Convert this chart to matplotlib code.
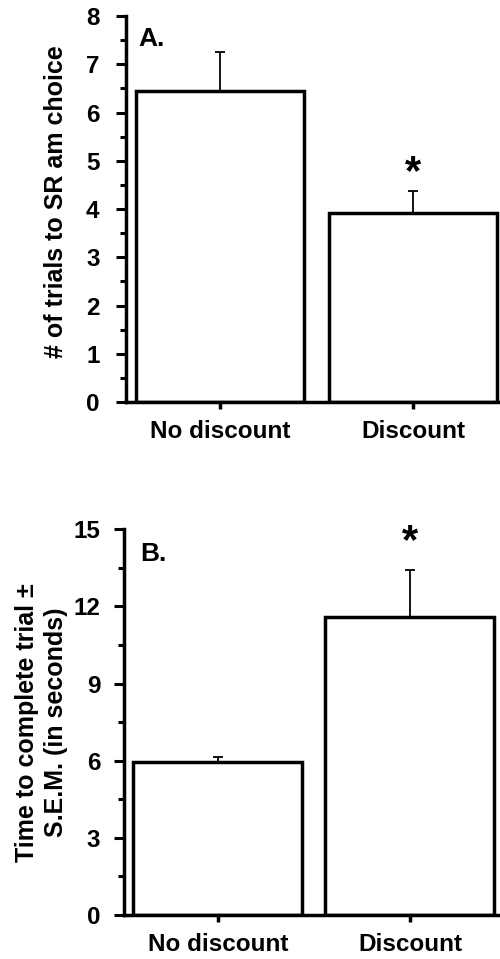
import matplotlib
matplotlib.use('Agg')
import matplotlib.pyplot as plt
from matplotlib.ticker import MultipleLocator

plt.rcParams['font.family'] = ['Liberation Sans', 'DejaVu Sans']
plt.rcParams['font.weight'] = 'bold'

groups = ['No discount', 'Discount']

trials_mean = [6.45, 3.92]
trials_sem = [0.80, 0.45]

time_mean = [5.96, 11.60]
time_sem = [0.17, 1.80]

fig = plt.figure(figsize=(5, 9.59), dpi=100)
axA = fig.add_axes([0.252, 0.5808, 0.748, 0.4025])
axB = fig.add_axes([0.248, 0.0459, 0.752, 0.4022])

def style(ax, ypad):
    ax.spines['top'].set_visible(False)
    ax.spines['right'].set_visible(False)
    ax.spines['left'].set_linewidth(2.5)
    ax.spines['bottom'].set_linewidth(2.5)
    ax.tick_params(axis='y', which='major', direction='out', length=7, width=2.2,
                   labelsize=17.5, pad=ypad)
    ax.tick_params(axis='y', which='minor', direction='out', length=4.5, width=2.2)
    ax.tick_params(axis='x', direction='out', length=5, width=2.5, labelsize=17.5, pad=8)
    for lab in ax.get_xticklabels() + ax.get_yticklabels():
        lab.set_fontweight('bold')

x = [0, 1]

# panel A
axA.bar(x, trials_mean, width=0.87, color='white', edgecolor='black', linewidth=2.5, zorder=2)
axA.errorbar(x, trials_mean, yerr=[[0, 0], trials_sem], fmt='none', ecolor='black',
             elinewidth=1.3, capsize=3.6, capthick=1.3, zorder=1)
axA.set_xlim(-0.487, 1.45)
axA.set_ylim(0, 8)
axA.yaxis.set_major_locator(MultipleLocator(1))
axA.yaxis.set_minor_locator(MultipleLocator(0.5))
axA.set_xticks(x)
axA.set_xticklabels(groups)
axA.set_ylabel('# of trials to SR am choice', fontsize=18, fontweight='bold')
axA.yaxis.set_label_coords(-0.155, 0.52)
axA.text(0.032, 0.972, 'A.', transform=axA.transAxes, fontsize=19, fontweight='bold', va='top')
axA.text(x[1], 4.75, '*', ha='center', va='center', fontsize=30, fontweight='bold')
style(axA, 12)

# panel B
axB.bar(x, time_mean, width=0.88, color='white', edgecolor='black', linewidth=2.5, zorder=2)
axB.errorbar(x, time_mean, yerr=[[0, 0], time_sem], fmt='none', ecolor='black',
             elinewidth=1.3, capsize=3.6, capthick=1.3, zorder=1)
axB.set_xlim(-0.489, 1.469)
axB.set_ylim(0, 15)
axB.yaxis.set_major_locator(MultipleLocator(3))
axB.yaxis.set_minor_locator(MultipleLocator(1.5))
axB.set_xticks(x)
axB.set_xticklabels(groups)
axB.set_ylabel('Time to complete trial \u00b1\nS.E.M. (in seconds)', fontsize=18,
               fontweight='bold', labelpad=4, linespacing=1.25)
axB.text(0.043, 0.968, 'B.', transform=axB.transAxes, fontsize=19, fontweight='bold', va='top')
axB.text(x[1], 14.5, '*', ha='center', va='center', fontsize=30, fontweight='bold')
style(axB, 10)

fig.savefig('out.png', dpi=100)
